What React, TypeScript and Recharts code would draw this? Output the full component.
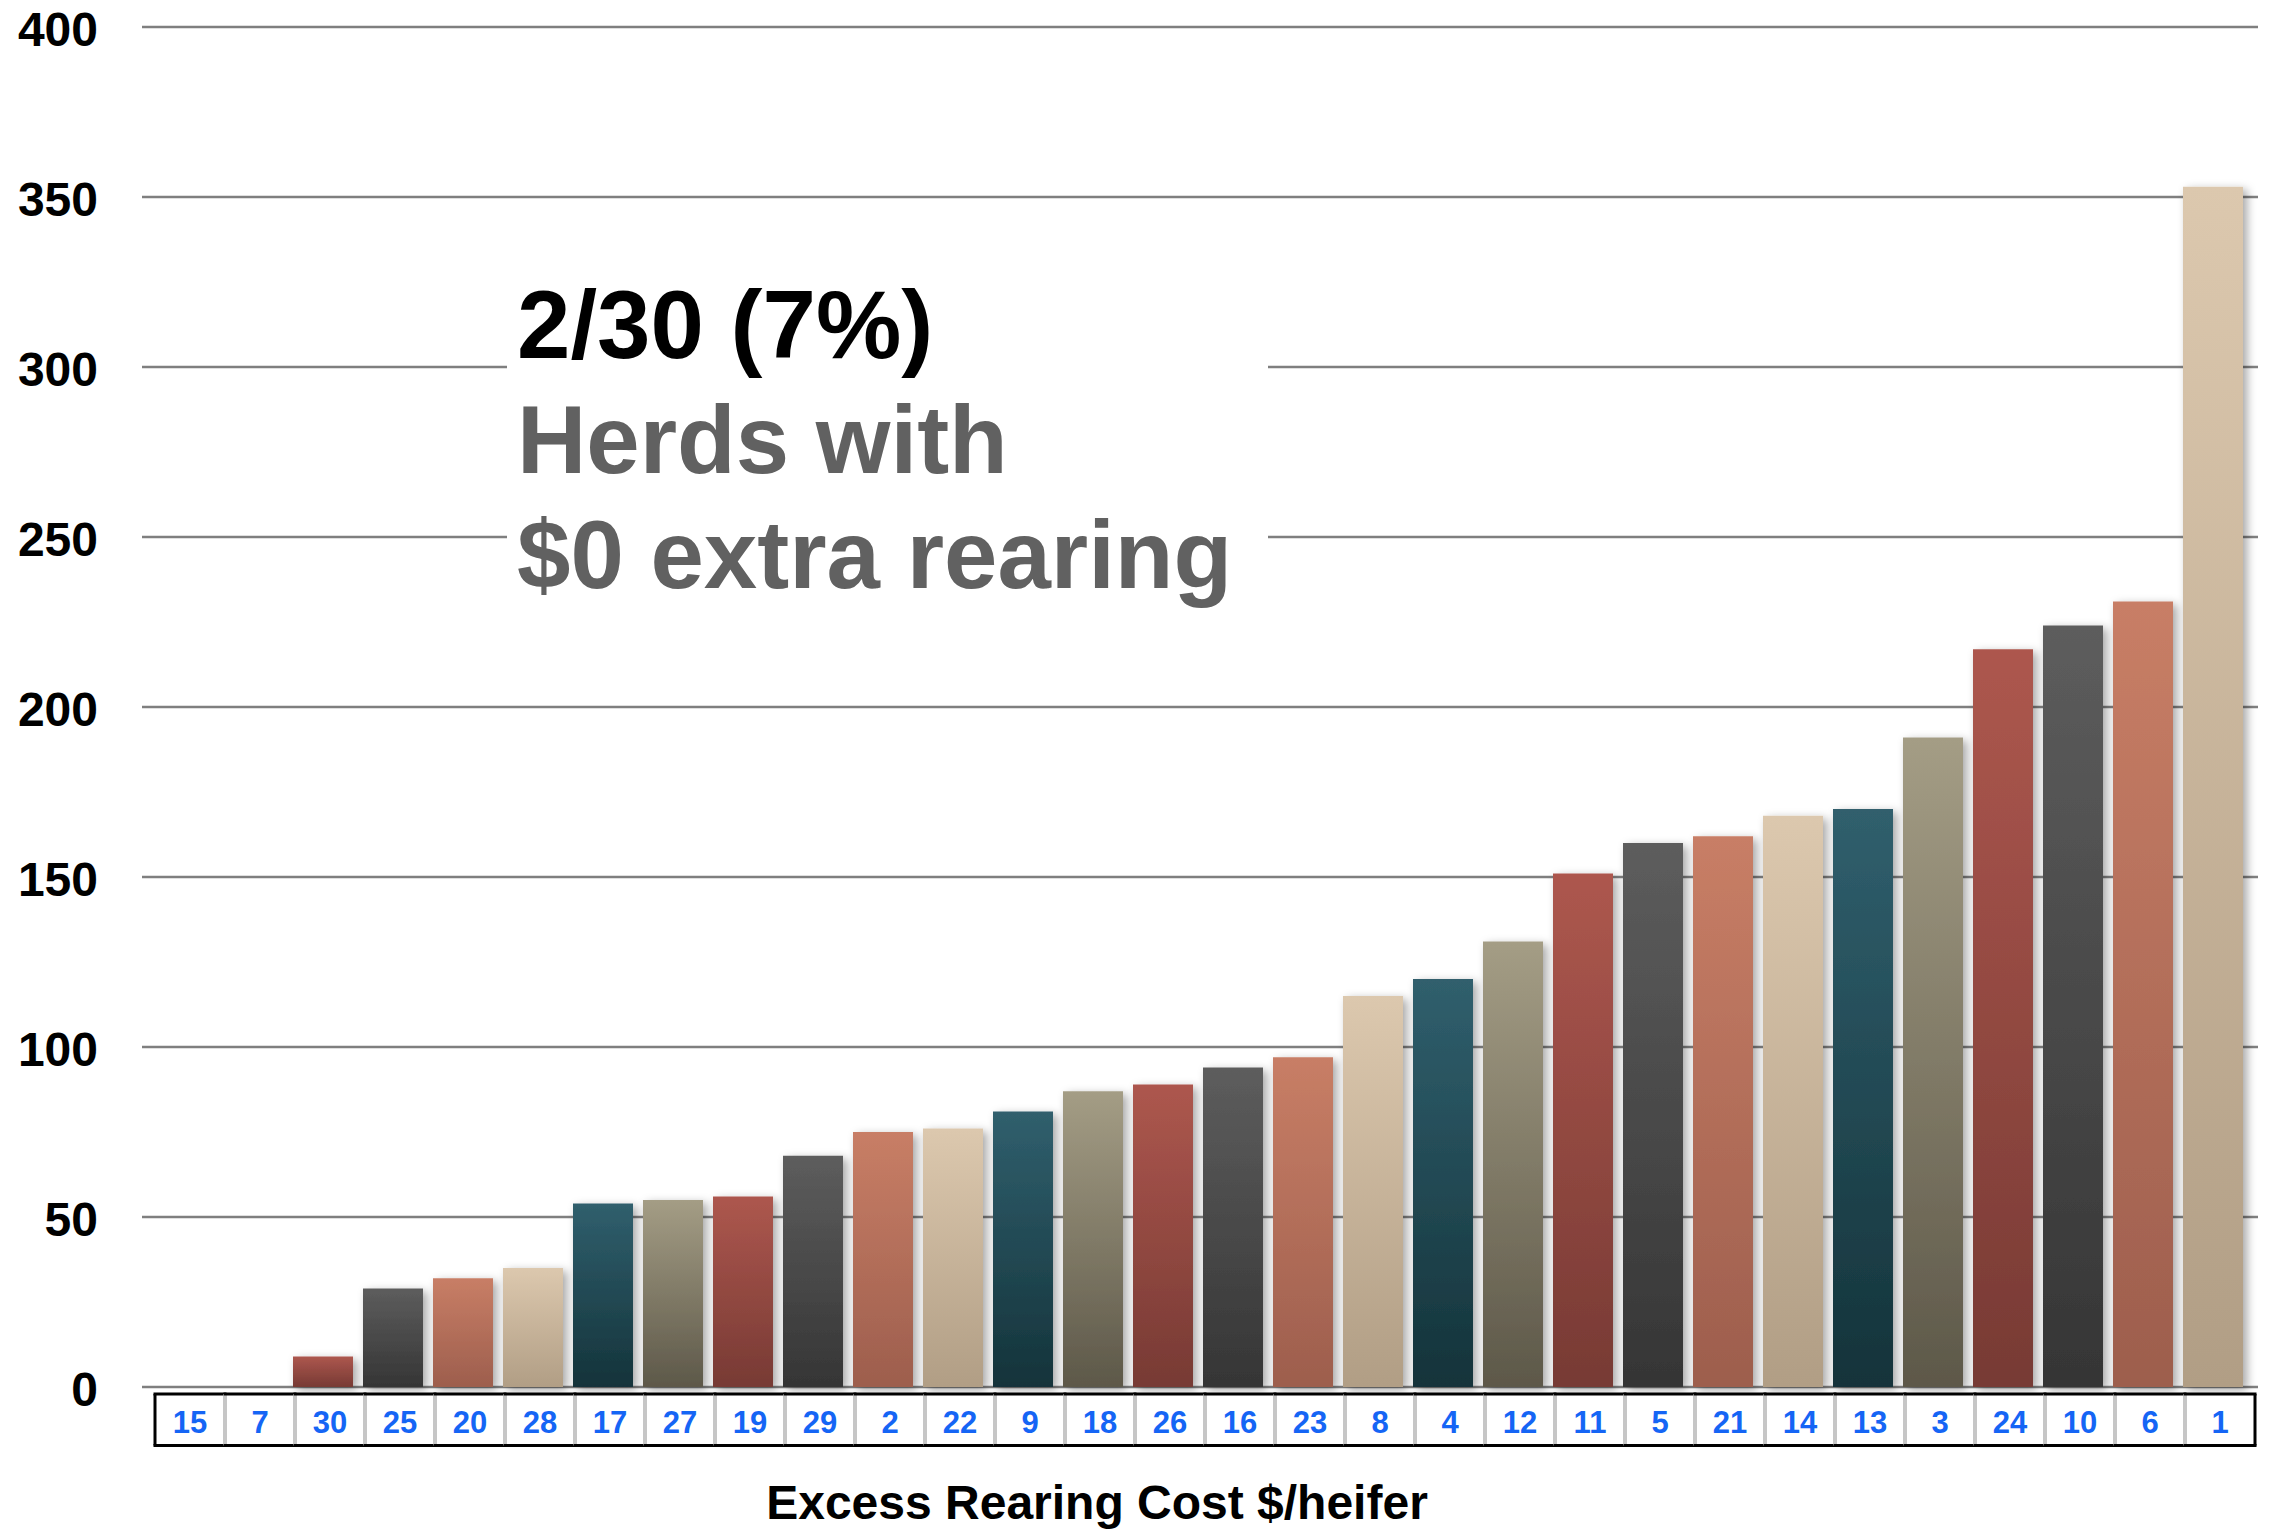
import { Bar, BarChart, CartesianGrid, Cell, XAxis, YAxis } from 'recharts';

// herd numbers, sorted by excess rearing cost
const herds = [
  '15', '7', '30', '25', '20', '28', '17', '27', '19', '29',
  '2', '22', '9', '18', '26', '16', '23', '8', '4', '12',
  '11', '5', '21', '14', '13', '3', '24', '10', '6', '1',
];

// excess rearing cost, $/heifer
const costs = [
  0, 0, 9, 29, 32, 35, 54, 55, 56, 68,
  75, 76, 81, 87, 89, 94, 97, 115, 120, 131,
  151, 160, 162, 168, 170, 191, 217, 224, 231, 353,
];

const yTicks = [0, 50, 100, 150, 200, 250, 300, 350, 400];

const calloutLines = ['2/30 (7%)', 'Herds with', '$0 extra rearing'];

const palette = [
  { id: 'red', top: '#ad574e', bottom: '#773a34' },
  { id: 'slate', top: '#5d5d5d', bottom: '#353535' },
  { id: 'clay', top: '#c87e66', bottom: '#9d5e4d' },
  { id: 'sand', top: '#dcc8ae', bottom: '#b19e85' },
  { id: 'teal', top: '#305f6d', bottom: '#14333a' },
  { id: 'olive', top: '#a49d85', bottom: '#5d5849' },
];

const data = herds.map((herd, i) => ({ herd, cost: costs[i] }));

const FONT = "'Liberation Sans', Arial, Helvetica, sans-serif";
const W = 2263;
const H = 1529;
const BOX_TOP = 1394;
const BOX_BOTTOM = 1445.5;

const YTick = ({ y, payload }: any) => (
  <text
    x={90}
    y={y}
    dy={19}
    textAnchor='end'
    fontFamily={FONT}
    fontWeight='bold'
    fontSize={48}
    fill='#000'
  >
    {payload.value}
  </text>
);

// each herd number sits in a cell of the boxed strip under the bars
const XTick = (props: any) => {
  const { x, payload } = props;
  const index = props.index ?? payload.index ?? 0;
  const left = x - 28;
  const right = x + 42;
  return (
    <g>
      <rect x={left} y={BOX_TOP} width={right - left} height={BOX_BOTTOM - BOX_TOP} fill='#fff' />
      {index > 0 && (
        <line x1={left} x2={left} y1={BOX_TOP} y2={BOX_BOTTOM} stroke='#c6c6c6' strokeWidth={4} />
      )}
      <line x1={left - 1.5} x2={right + 1.5} y1={BOX_TOP} y2={BOX_TOP} stroke='#000' strokeWidth={3} />
      <line x1={left - 1.5} x2={right + 1.5} y1={BOX_BOTTOM} y2={BOX_BOTTOM} stroke='#000' strokeWidth={3} />
      {index === 0 && (
        <line x1={left} x2={left} y1={BOX_TOP} y2={BOX_BOTTOM} stroke='#000' strokeWidth={3} />
      )}
      {index === herds.length - 1 && (
        <line x1={right} x2={right} y1={BOX_TOP} y2={BOX_BOTTOM} stroke='#000' strokeWidth={3} />
      )}
      <text
        x={x + 7}
        y={1433}
        textAnchor='middle'
        fontFamily={FONT}
        fontWeight='bold'
        fontSize={31}
        fill='#1565f5'
      >
        {payload.value}
      </text>
    </g>
  );
};

// grid lines run a little past the plot on both sides
const GridLine = (props: any) => (
  <line
    key={props.key ?? `g-${props.index}`}
    x1={props.x1 - 6}
    x2={props.x2 + 10}
    y1={props.y1}
    y2={props.y2}
    stroke='#7f7f7f'
    strokeWidth={2.6}
  />
);

const App = () => {
  return (
    <div style={{ position: 'relative', width: W, height: H, marginTop: -8 }}>
      <BarChart
        width={W}
        height={H}
        data={data}
        margin={{ top: 27, right: 23, bottom: 0, left: 0 }}
      >
        <defs>
          {palette.map((c) => (
            <linearGradient key={c.id} id={`bar-${c.id}`} x1='0' y1='0' x2='0' y2='1'>
              <stop offset='0%' stopColor={c.top} />
              <stop offset='100%' stopColor={c.bottom} />
            </linearGradient>
          ))}
          <filter id='barShadow' filterUnits='userSpaceOnUse' x='0' y='0' width={W} height={H}>
            <feDropShadow dx='4' dy='3' stdDeviation='5' floodColor='#000' floodOpacity='0.35' />
          </filter>
        </defs>
        <CartesianGrid vertical={false} horizontal={GridLine} />
        <XAxis
          dataKey='herd'
          interval={0}
          height={142}
          axisLine={false}
          tickLine={false}
          tick={XTick}
        />
        <YAxis
          width={140}
          domain={[0, 400]}
          ticks={yTicks}
          interval={0}
          axisLine={false}
          tickLine={false}
          tick={YTick}
        />
        <Bar dataKey='cost' barSize={60} isAnimationActive={false}>
          {data.map((d, i) => (
            <Cell
              key={d.herd}
              fill={`url(#bar-${palette[(i + 4) % palette.length].id})`}
              filter='url(#barShadow)'
            />
          ))}
        </Bar>
      </BarChart>
      <svg
        width={W}
        height={H}
        style={{ position: 'absolute', left: 0, top: 0, pointerEvents: 'none' }}
      >
        <rect x={499} y={270} width={761} height={352} fill='#fff' />
        {calloutLines.map((line, i) => (
          <text
            key={line}
            x={509}
            y={358 + i * 115}
            fontFamily={FONT}
            fontWeight='bold'
            fontSize={96}
            fill={i === 0 ? '#000' : '#616161'}
          >
            {line}
          </text>
        ))}
        <text
          x={1089}
          y={1519}
          textAnchor='middle'
          fontFamily={FONT}
          fontWeight='bold'
          fontSize={48}
          fill='#000'
        >
          Excess Rearing Cost $/heifer
        </text>
      </svg>
    </div>
  );
};

export default App;
